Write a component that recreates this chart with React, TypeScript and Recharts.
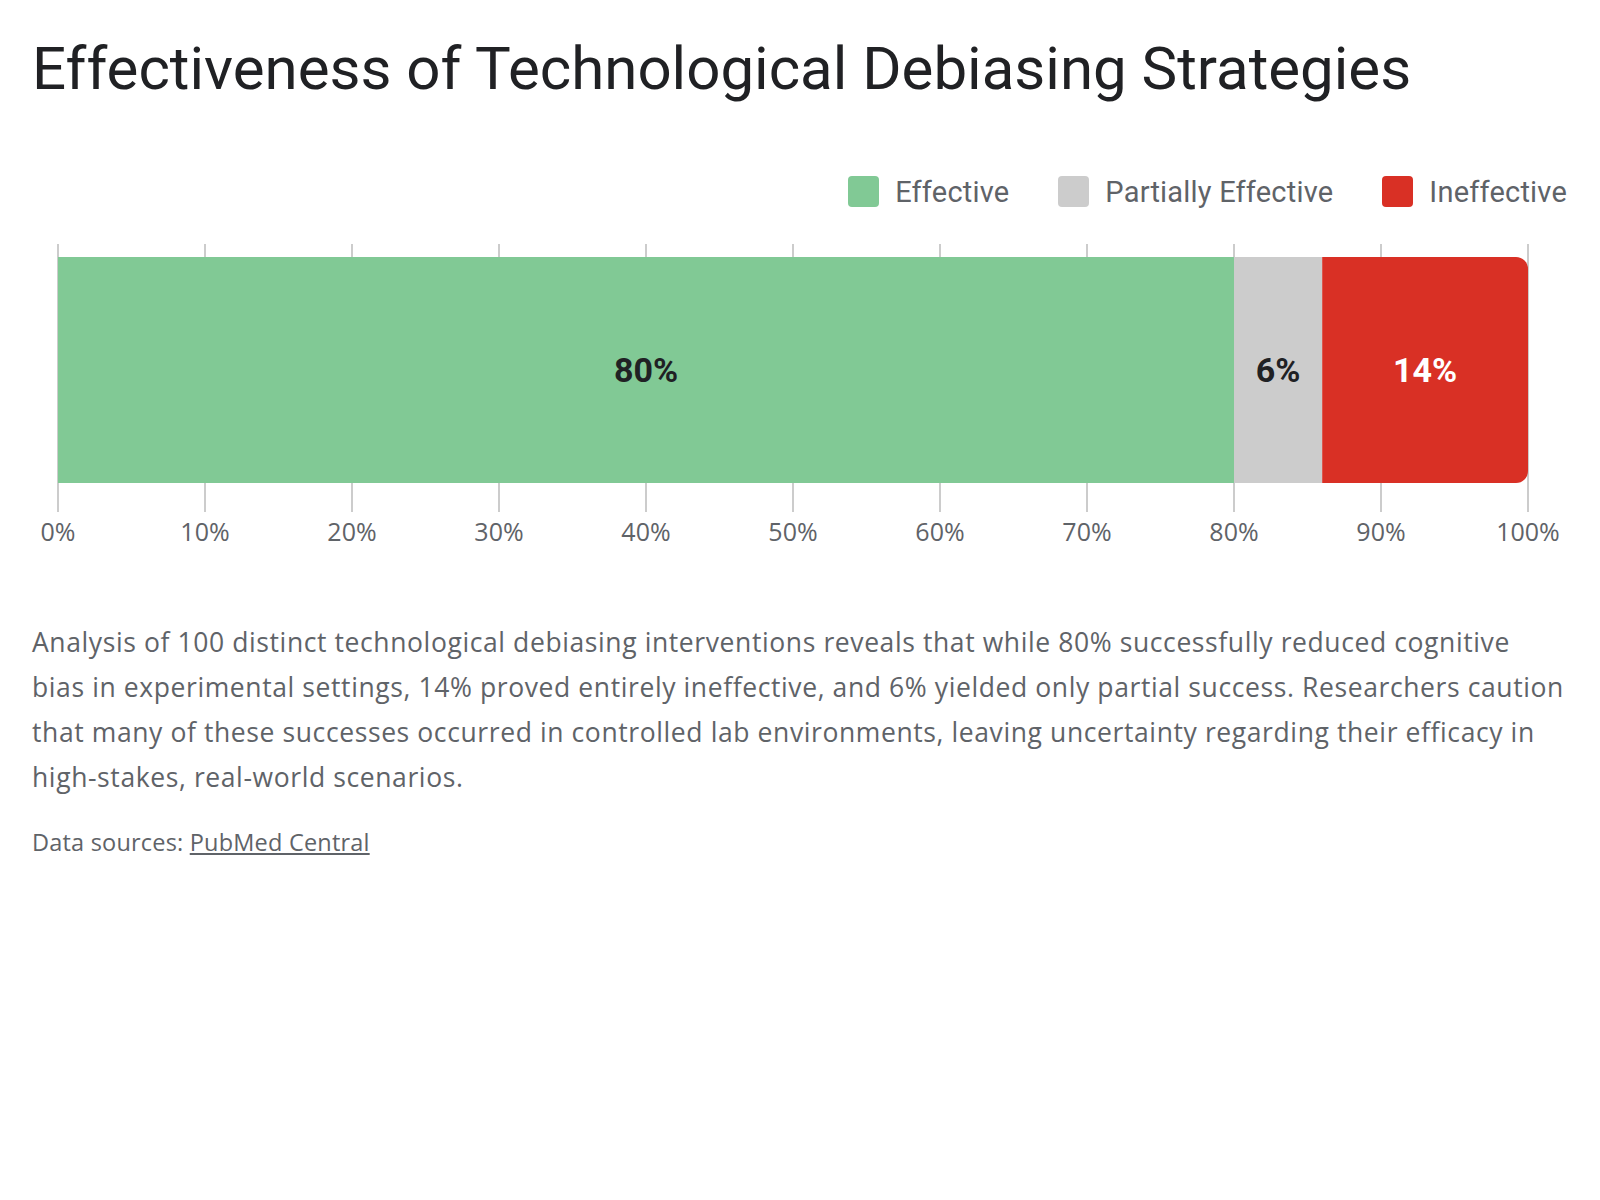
import { BarChart, Bar, XAxis, YAxis, CartesianGrid, LabelList } from "recharts";

const categories = ["Technological debiasing interventions"];
const seriesNames = ["Effective", "Partially Effective", "Ineffective"];
const seriesValues = [80, 6, 14];
const xTicks = [0, 10, 20, 30, 40, 50, 60, 70, 80, 90, 100];

const colors = ["#81c995", "#cccccc", "#d93025"];
const labelColors = ["#202124", "#202124", "#ffffff"];

const data = categories.map((name) => {
  const row: Record<string, string | number> = { name };
  seriesNames.forEach((s, i) => {
    row[s] = seriesValues[i];
  });
  return row;
});

const FONT = "Roboto, 'Noto Sans', sans-serif";
const BODY_FONT = "'Open Sans', Roboto, sans-serif";

export default function App() {
  return (
    <div style={{ position: "relative", width: 1584, height: 1184, fontFamily: FONT }}>
      <h1
        style={{
          position: "absolute",
          left: 24,
          top: 31,
          margin: 0,
          fontSize: 60,
          lineHeight: "60px",
          fontWeight: 400,
          color: "#202124",
          whiteSpace: "nowrap",
        }}
      >
        Effectiveness of Technological Debiasing Strategies
      </h1>

      <div
        style={{
          position: "absolute",
          right: 25,
          top: 168,
          height: 31,
          display: "flex",
          alignItems: "center",
          gap: 49,
        }}
      >
        {seriesNames.map((s, i) => (
          <div key={s} style={{ display: "flex", alignItems: "center", gap: 16 }}>
            <span style={{ width: 31, height: 31, borderRadius: 4, background: colors[i], display: "inline-block" }} />
            <span style={{ fontSize: 29, color: "#5f6368", letterSpacing: 0.2 }}>{s}</span>
          </div>
        ))}
      </div>

      <div style={{ position: "absolute", left: 0, top: 230 }}>
        <BarChart
          width={1560}
          height={320}
          data={data}
          layout="vertical"
          margin={{ top: 6, right: 40, left: 50, bottom: 0 }}
          barCategoryGap={13}
        >
          <CartesianGrid horizontal={false} stroke="#cccccc" strokeWidth={2} />
          <XAxis
            type="number"
            domain={[0, 100]}
            ticks={xTicks}
            tickFormatter={(v) => `${v}%`}
            axisLine={false}
            tickLine={{ stroke: "#cccccc", strokeWidth: 2 }}
            tickSize={16}
            tickMargin={11}
            height={62}
            tick={{ fontSize: 25, fill: "#5f6368", fontFamily: BODY_FONT }}
            interval={0}
          />
          <YAxis type="category" dataKey="name" hide width={0} />
          {seriesNames.map((s, i) => (
            <Bar
              key={s}
              dataKey={s}
              stackId="a"
              fill={colors[i]}
              isAnimationActive={false}
              radius={i === seriesNames.length - 1 ? [0, 12, 12, 0] : 0}
            >
              <LabelList
                dataKey={s}
                position="center"
                formatter={(v: number) => `${v}%`}
                fill={labelColors[i]}
                fontSize={34}
                fontWeight={700}
                fontFamily={FONT}
              />
            </Bar>
          ))}
        </BarChart>
      </div>

      <p
        style={{
          position: "absolute",
          left: 24,
          top: 612,
          margin: 0,
          fontSize: 26.5,
          letterSpacing: 0.6,
          lineHeight: "45px",
          color: "#5f6368",
          fontFamily: BODY_FONT,
          whiteSpace: "nowrap",
        }}
      >
        Analysis of 100 distinct technological debiasing interventions reveals that while 80% successfully reduced cognitive
        <br />
        bias in experimental settings, 14% proved entirely ineffective, and 6% yielded only partial success. Researchers caution
        <br />
        that many of these successes occurred in controlled lab environments, leaving uncertainty regarding their efficacy in
        <br />
        high-stakes, real-world scenarios.
      </p>

      <div
        style={{
          position: "absolute",
          left: 24,
          top: 820,
          margin: 0,
          fontSize: 23.5,
          letterSpacing: 0.2,
          lineHeight: "28px",
          color: "#5f6368",
          fontFamily: BODY_FONT,
        }}
      >
        Data sources: <a href="#" style={{ color: "#5f6368", textDecoration: "underline" }}>PubMed Central</a>
      </div>
    </div>
  );
}
